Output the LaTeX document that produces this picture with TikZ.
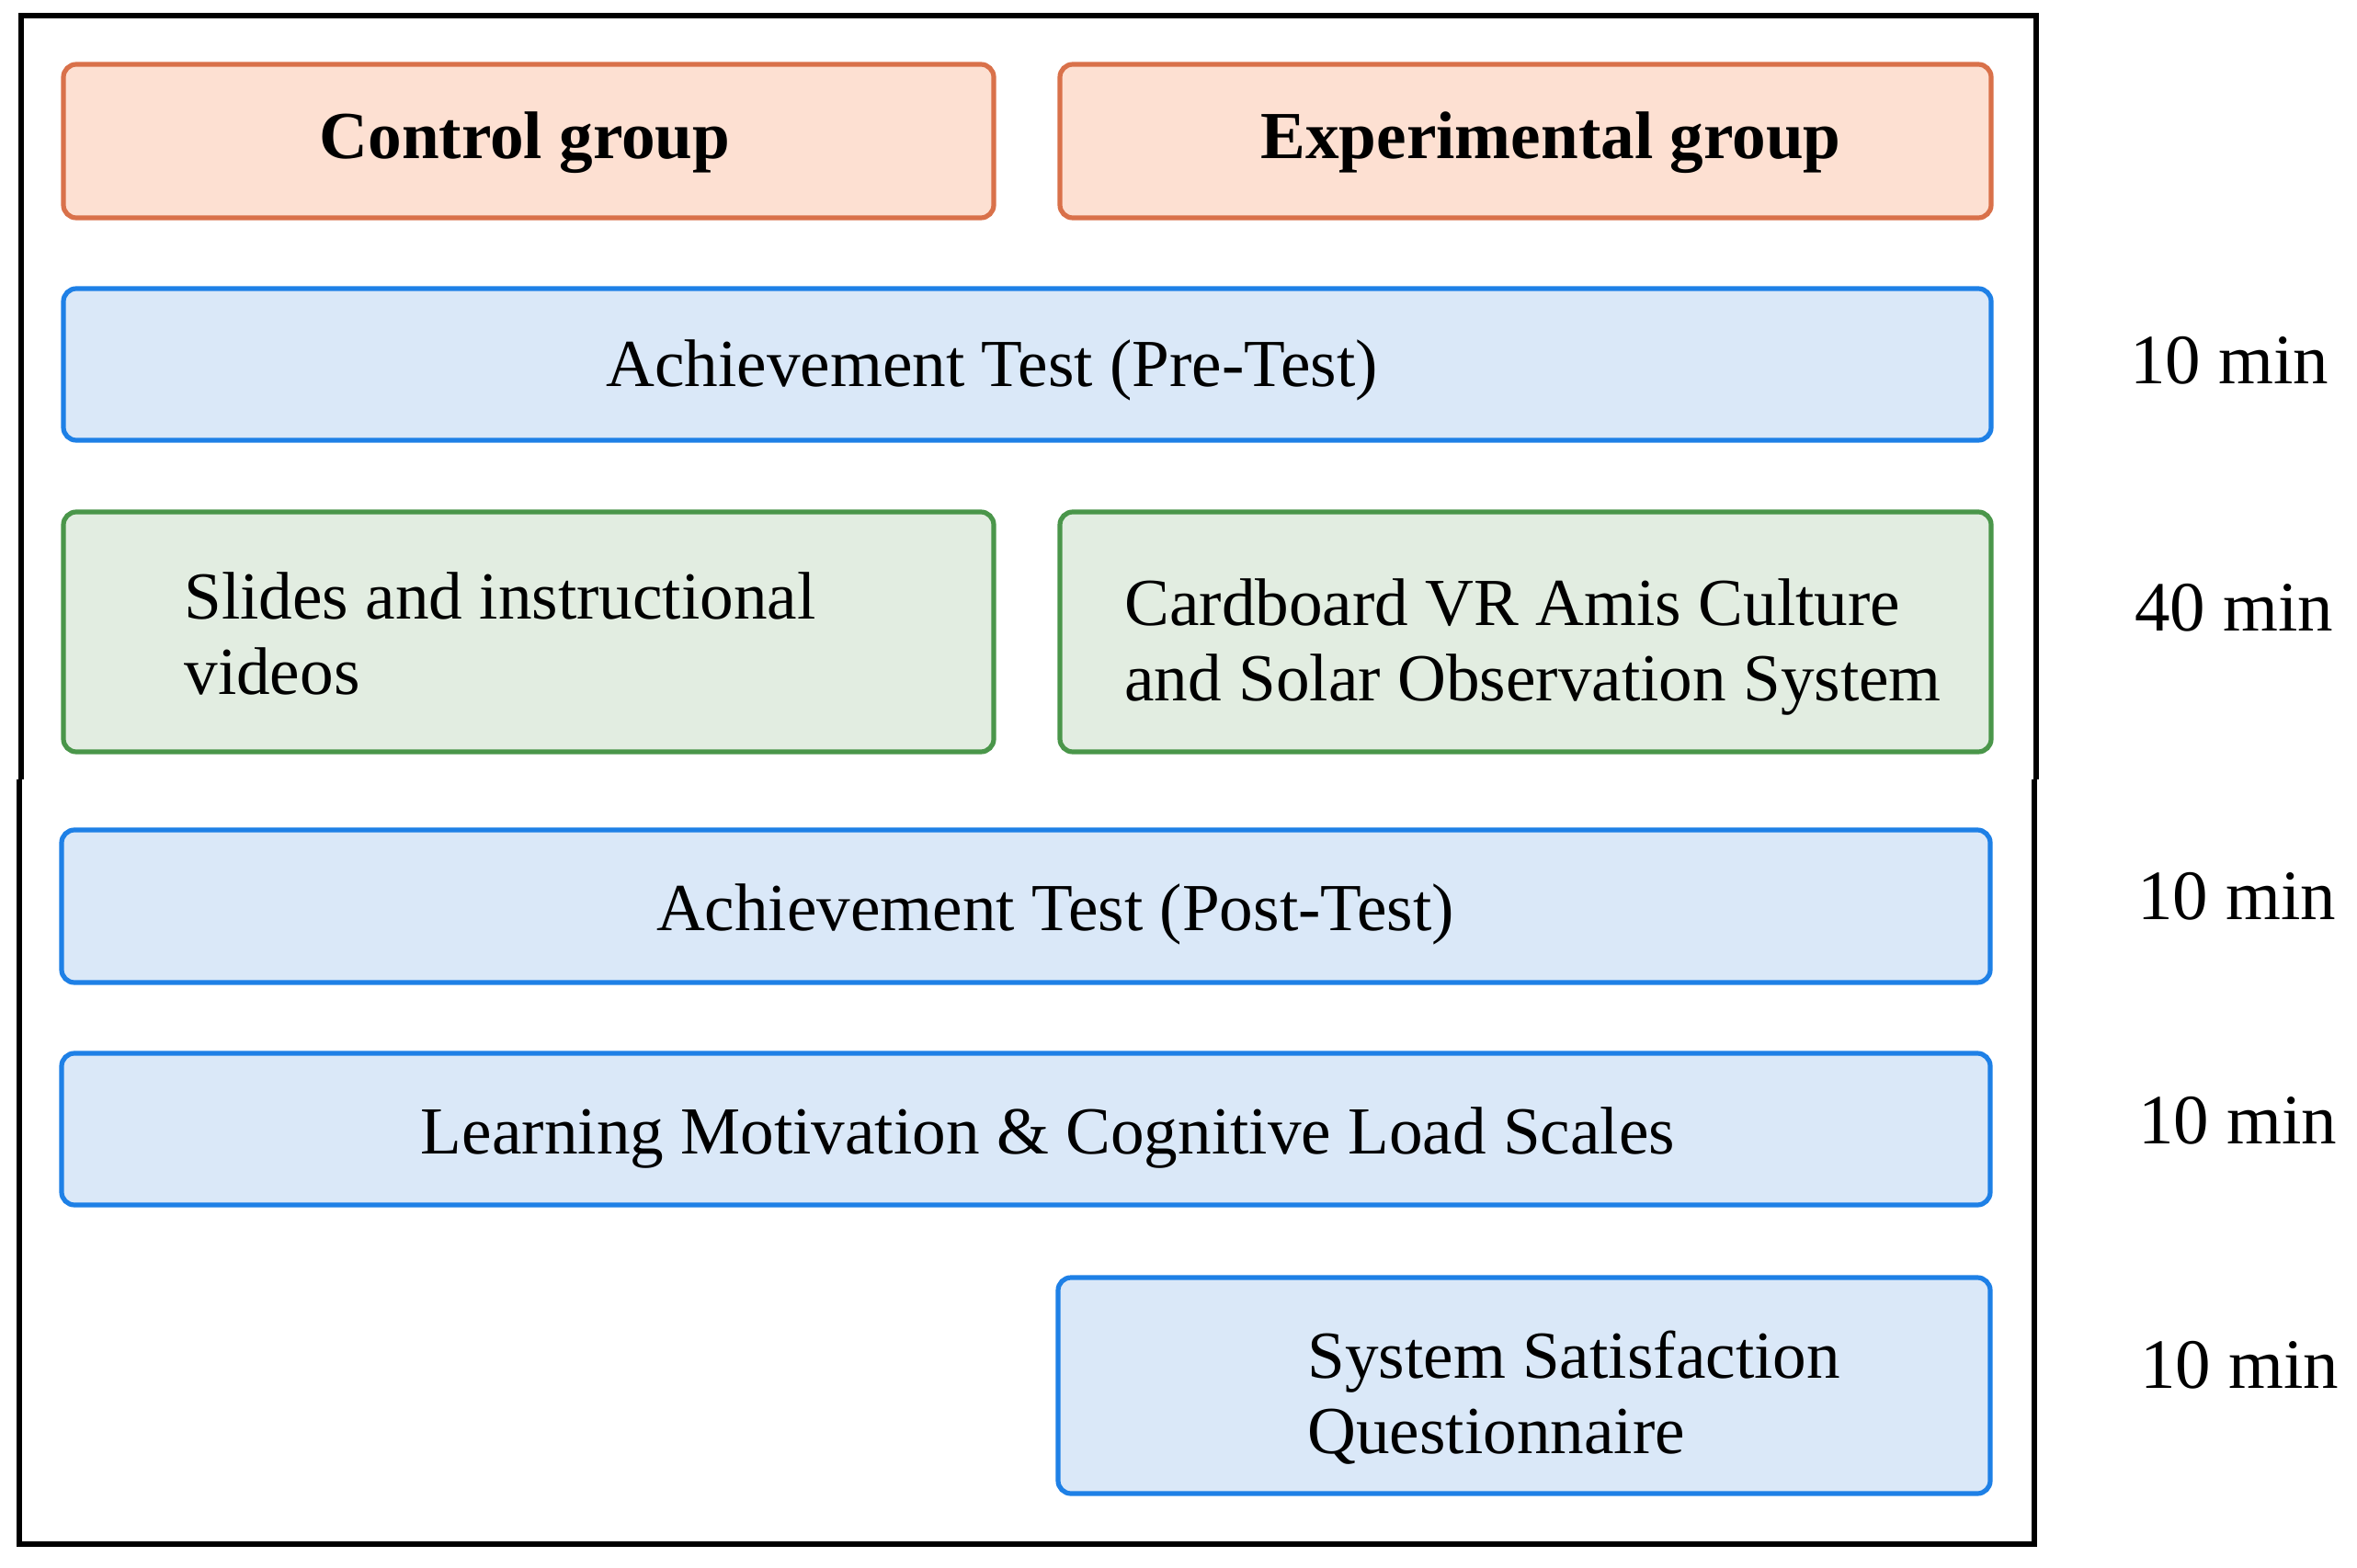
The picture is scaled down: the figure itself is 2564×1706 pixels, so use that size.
\documentclass[tikz,border=0pt]{standalone}
\usepackage{fontspec}
\setmainfont{Liberation Serif}
\definecolor{orfill}{HTML}{FDE0D2}
\definecolor{ordraw}{HTML}{D9714A}
\definecolor{blfill}{HTML}{DAE8F8}
\definecolor{bldraw}{HTML}{1E80E6}
\definecolor{grfill}{HTML}{E2EDE1}
\definecolor{grdraw}{HTML}{4A964A}
\tikzset{
  boxbase/.style={line width=2.6pt, rounded corners=7pt},
  orbox/.style={boxbase, draw=ordraw, fill=orfill},
  blbox/.style={boxbase, draw=bldraw, fill=blfill},
  grbox/.style={boxbase, draw=grdraw, fill=grfill},
  lbl/.style={inner sep=0pt, font=\fontsize{36.6}{41}\selectfont},
  blbl/.style={lbl, font=\fontsize{36.6}{41}\selectfont\bfseries},
  tlbl/.style={inner sep=0pt, font=\fontsize{38.5}{44}\selectfont},
  frame/.style={line width=3pt, draw=black}
}
\begin{document}
\begin{tikzpicture}[x=0.5pt,y=-0.5pt]
\path[use as bounding box, fill=white] (0,0) rectangle (2564,1706);
% outer frame (two pieces, slightly offset)
\draw[frame] (22.5,848) -- (22.5,17.5) -- (2214.5,17.5) -- (2214.5,848);
\draw[frame] (20.5,848) -- (20.5,1680) -- (2213,1680) -- (2213,848);
% boxes
\path[orbox] (69,70) rectangle (1081,237);
\path[orbox] (1153,70) rectangle (2166,237);
\path[blbox] (69,314) rectangle (2166,479);
\path[grbox] (69,557) rectangle (1081,818);
\path[grbox] (1153,557) rectangle (2166,818);
\path[blbox] (67,903) rectangle (2165,1069);
\path[blbox] (67,1146) rectangle (2165,1311);
\path[blbox] (1151,1390) rectangle (2165,1625);
% labels
\node[blbl, anchor=base] (ctrl) at (571,173) {Control group};
\node[blbl, anchor=base] (exp) at (1687,173) {Experimental group};
\node[lbl, anchor=base] (pre) at (1079,421) {Achievement Test (Pre-Test)};
\node[lbl, anchor=base west, align=left] (slides) at (200,755) {Slides and instructional\\videos};
\node[lbl, anchor=base west, align=left] (vr) at (1223,762) {Cardboard VR Amis Culture\\and Solar Observation System};
\node[lbl, anchor=base] (post) at (1148,1012) {Achievement Test (Post-Test)};
\node[lbl, anchor=base] (mot) at (1140,1255) {Learning Motivation \& Cognitive Load Scales};
\node[lbl, anchor=base west, align=left] (sat) at (1422,1581) {System Satisfaction\\Questionnaire};
% times
\node[tlbl, anchor=base] (t1) at (2425,418) {10 min};
\node[tlbl, anchor=base] (t2) at (2430,686) {40 min};
\node[tlbl, anchor=base] (t3) at (2433,1000) {10 min};
\node[tlbl, anchor=base] (t4) at (2434,1244) {10 min};
\node[tlbl, anchor=base] (t5) at (2436,1510) {10 min};
\end{tikzpicture}
\end{document}
